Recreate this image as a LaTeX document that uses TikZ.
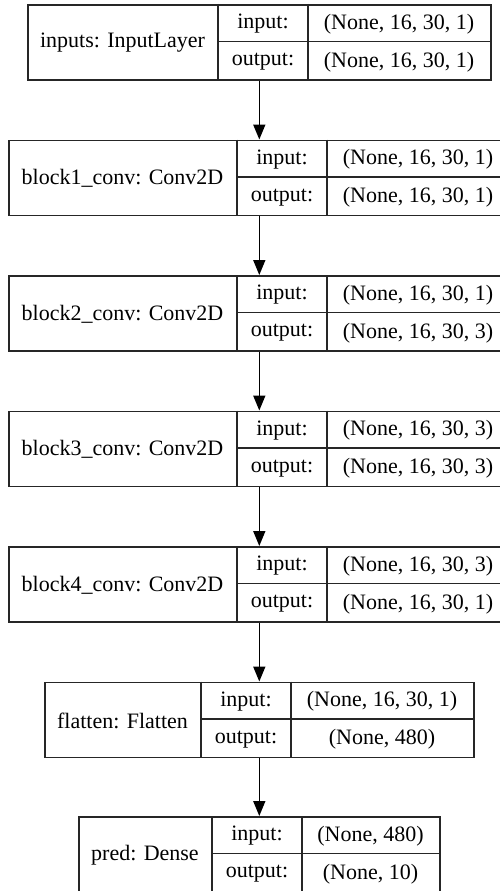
\documentclass[tikz,border=0pt]{standalone}
\usepackage{fontspec}
\setmainfont{Liberation Serif}
\usetikzlibrary{arrows.meta}

\tikzset{
  layerbox/.style={draw=black!85, line width=1.6pt, inner sep=0pt, anchor=north west},
  cellline/.style={draw=black!85, line width=1.6pt},
  celltext/.style={inner sep=0pt, font=\fontsize{22}{26}\selectfont},
  flow/.style={draw=black, line width=1.6pt, -{Triangle[length=15pt,width=12pt]}},
}

% One Keras layer record: name, left, divider 1, divider 2, right, top,
% title, input shape, output shape (all in pixel units, y pointing down)
\newcommand\layerrow[9]{%
  \node[layerbox, minimum width={(#5-#2)*1pt}, minimum height=75pt] (#1) at (#2,#6) {};
  \draw[cellline] (#3,#6) -- (#3,#6+75);
  \draw[cellline] (#4,#6) -- (#4,#6+75);
  \draw[cellline] (#3,#6+37.5) -- (#5,#6+37.5);
  \node[celltext] (#1-title) at ({(#2+#3)/2},#6+39) {#7};
  \node[celltext] (#1-inkey) at ({(#3+#4)/2},#6+20) {input:};
  \node[celltext] (#1-outkey) at ({(#3+#4)/2},#6+58) {output:};
  \node[celltext] (#1-inval) at ({(#4+#5)/2},#6+20) {#8};
  \node[celltext] (#1-outval) at ({(#4+#5)/2},#6+58) {#9};
}

\begin{document}
\begin{tikzpicture}[x=1pt, y=-1pt]
  \useasboundingbox (0,0) rectangle (500,891);
  \clip (0,0) rectangle (500,891);
  \fill[white] (0,0) rectangle (500,891);

  \layerrow{inputs}{27}{218}{308}{490}{4}{inputs: InputLayer}{(None, 16, 30, 1)}{(None, 16, 30, 1)}
  \layerrow{block1}{8}{237}{327}{509}{139.5}{block1\_conv: Conv2D}{(None, 16, 30, 1)}{(None, 16, 30, 1)}
  \layerrow{block2}{8}{237}{327}{509}{275}{block2\_conv: Conv2D}{(None, 16, 30, 1)}{(None, 16, 30, 3)}
  \layerrow{block3}{8}{237}{327}{509}{410.5}{block3\_conv: Conv2D}{(None, 16, 30, 3)}{(None, 16, 30, 3)}
  \layerrow{block4}{8}{237}{327}{509}{546}{block4\_conv: Conv2D}{(None, 16, 30, 3)}{(None, 16, 30, 1)}
  \layerrow{flatten}{44}{201}{291}{473}{681.5}{flatten: Flatten}{(None, 16, 30, 1)}{(None, 480)}
  \layerrow{pred}{78}{212}{302}{439}{816}{pred: Dense}{(None, 480)}{(None, 10)}

  \draw[flow] (inputs.south) -- (block1.north);
  \draw[flow] (block1.south) -- (block2.north);
  \draw[flow] (block2.south) -- (block3.north);
  \draw[flow] (block3.south) -- (block4.north);
  \draw[flow] (block4.south) -- (flatten.north);
  \draw[flow] (flatten.south) -- (pred.north);
\end{tikzpicture}
\end{document}
